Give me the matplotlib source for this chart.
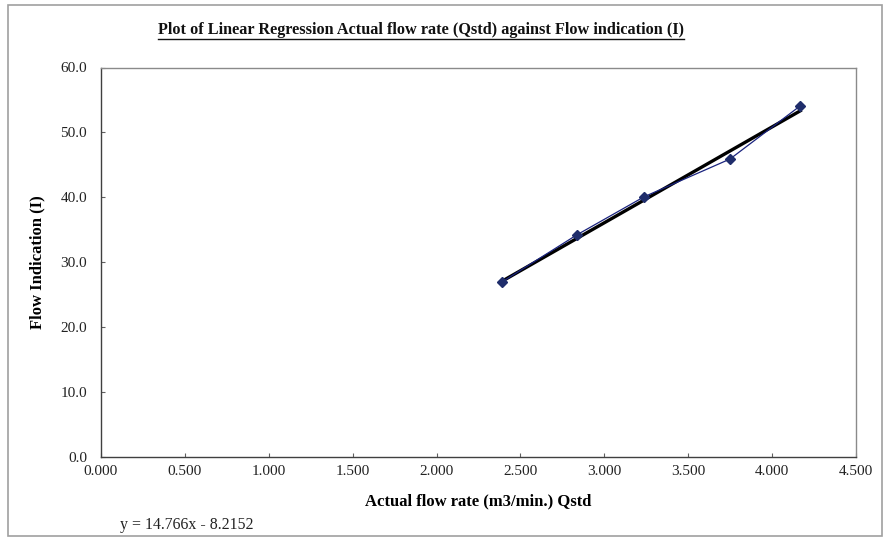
import numpy as np
import matplotlib
matplotlib.use('Agg')
import matplotlib.pyplot as plt
from matplotlib.lines import Line2D
from matplotlib.patches import Rectangle

# data
qstd = [2.392, 2.835, 3.238, 3.749, 4.168]     # actual flow rate (m3/min.)
flow_ind = [27.0, 34.2, 40.1, 45.9, 54.1]      # flow indication (I)
slope = 14.766
intercept = -8.2152

x_ticks = [0.0, 0.5, 1.0, 1.5, 2.0, 2.5, 3.0, 3.5, 4.0, 4.5]
y_ticks = [0, 10, 20, 30, 40, 50, 60]

plt.rcParams['font.family'] = ['Liberation Serif', 'DejaVu Serif']

fig = plt.figure(figsize=(8.86, 5.41), dpi=100)
fig.patch.set_facecolor('white')

# outer chart frame
fig.patches.append(Rectangle((8 / 886, 5 / 541), 874 / 886, 531 / 541,
                             transform=fig.transFigure, fill=False,
                             edgecolor='#a0a0a0', linewidth=1.2))

ax = fig.add_axes([101 / 886, 1 - 457 / 541, 755 / 886, 389.5 / 541])

# series with markers
ax.plot(qstd, flow_ind, color='#1a237e', linewidth=0.9, marker='D',
        markersize=5, markerfacecolor='#1f2d6b', markeredgecolor='#1f2d6b',
        zorder=3)

# linear trendline
xt = np.array([min(qstd), max(qstd)])
ax.plot(xt, slope * xt + intercept, color='black', linewidth=2.4, zorder=2)

ax.set_xlim(0, 4.5)
ax.set_ylim(0, 60)
ax.set_xticks(x_ticks)
ax.set_xticklabels([f'{v:.3f}' for v in x_ticks])
ax.set_yticks(y_ticks)
ax.set_yticklabels([f'{v:.1f}' for v in y_ticks])
ax.tick_params(axis='both', direction='in', length=3, width=0.8,
               color='#606060', labelsize=11, labelcolor='#222222')
ax.tick_params(axis='x', pad=6)
ax.tick_params(axis='y', pad=10)

for side in ['left', 'bottom']:
    ax.spines[side].set_color('#404040')
    ax.spines[side].set_linewidth(1.0)
for side in ['top', 'right']:
    ax.spines[side].set_color('#8a8a8a')
    ax.spines[side].set_linewidth(1.0)

ax.set_xlabel('Actual flow rate (m3/min.) Qstd', fontsize=12,
              fontweight='bold', labelpad=11)
ax.set_ylabel('Flow Indication (I)', fontsize=12, fontweight='bold',
              labelpad=11)

title = fig.text(421 / 886, 1 - 30 / 541,
                 'Plot of Linear Regression Actual flow rate (Qstd) against Flow indication (I)',
                 ha='center', va='center', fontsize=11.7, fontweight='bold',
                 color='#111111')

fig.text(120 / 886, 1 - 525 / 541, 'y = 14.766x - 8.2152', ha='left',
         va='center', fontsize=11.4, color='#222222')

# underline the title
fig.canvas.draw()
bb = title.get_window_extent().transformed(fig.transFigure.inverted())
fig.lines.append(Line2D([bb.x0, bb.x1], [bb.y0 - 1 / 541, bb.y0 - 1 / 541],
                        transform=fig.transFigure, color='#111111',
                        linewidth=1.0))

fig.savefig('out.png', dpi=100)
